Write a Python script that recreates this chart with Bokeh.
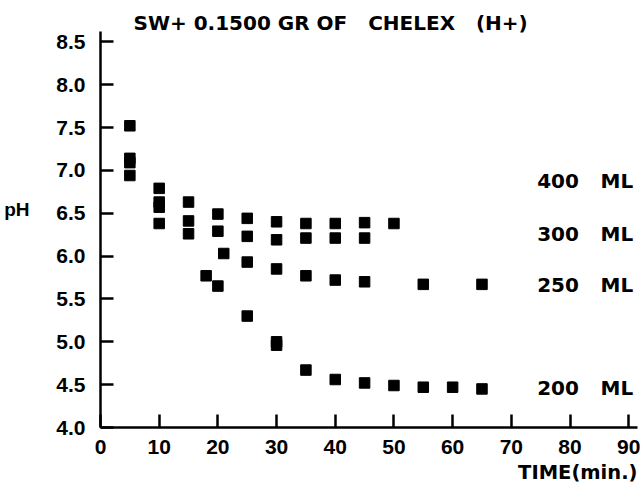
from bokeh.plotting import figure
from bokeh.models import FixedTicker, Title, LinearAxis
from bokeh.core.properties import value
from bokeh.embed import file_html
from bokeh.resources import INLINE

# ---- data ----
t_400 = [5, 10, 15, 20, 25, 30, 35, 40, 45, 50]
ph_400 = [7.52, 6.79, 6.63, 6.49, 6.44, 6.40, 6.38, 6.38, 6.39, 6.38]

t_300 = [5, 10, 15, 20, 25, 30, 35, 40, 45]
ph_300 = [7.14, 6.63, 6.41, 6.29, 6.23, 6.19, 6.21, 6.21, 6.21]

t_250 = [5, 10, 15, 21, 25, 30, 35, 40, 45, 55, 65]
ph_250 = [7.09, 6.57, 6.26, 6.03, 5.93, 5.85, 5.77, 5.72, 5.70, 5.67, 5.67]

t_200 = [5, 10, 18, 20, 25, 30, 30, 35, 40, 45, 50, 55, 60, 65]
ph_200 = [6.94, 6.38, 5.77, 5.65, 5.30, 5.00, 4.96, 4.67, 4.56, 4.52, 4.49, 4.47, 4.47, 4.45]

series_names = ["400", "300", "250", "200"]
series_label_y = [6.88, 6.26, 5.66, 4.46]

x_ticks = [0, 10, 20, 30, 40, 50, 60, 70, 80, 90]
y_ticks = [4.0, 4.5, 5.0, 5.5, 6.0, 6.5, 7.0, 7.5, 8.0, 8.5]
y_tick_labels = ["4.0", "4.5", "5.0", "5.5", "6.0", "6.5", "7.0", "7.5", "8.0", "8.5"]

NB = "\u00a0"
title_text = "SW+ 0.1500 GR OF" + NB * 3 + "CHELEX" + NB * 3 + "(H+)"
y_label_text = "pH"
y_label_level = 6.54
x_label_text = "TIME(min.)"
unit_text = "ML"

FONT = "Liberation Sans"
FONT2 = "DejaVu Sans"
INK = "#000000"

p = figure(width=643, height=486, x_range=(0, 91.5), y_range=(4.0, 8.62),
           output_backend="svg", toolbar_location=None,
           min_border_left=100, min_border_right=6, min_border_top=31,
           min_border_bottom=58)
p.outline_line_color = None
p.grid.visible = False
p.background_fill_color = "white"
p.border_fill_color = "white"

for ax in (p.xaxis, p.yaxis):
    ax.axis_line_width = 2.5
    ax.axis_line_color = INK
    ax.major_tick_line_width = 2.5
    ax.major_tick_line_color = INK
    ax.major_tick_in = 13
    ax.major_tick_out = 0
    ax.minor_tick_line_color = None
    ax.major_label_text_font = FONT
    ax.major_label_text_font_style = "bold"
    ax.major_label_text_font_size = "21px"
    ax.major_label_text_color = INK

p.xaxis.ticker = FixedTicker(ticks=x_ticks)
p.yaxis.ticker = FixedTicker(ticks=y_ticks)
p.yaxis.major_label_overrides = {t: l for t, l in zip(y_ticks, y_tick_labels)}
p.xaxis.major_label_standoff = 12
p.yaxis.major_label_standoff = 15

# "pH" label: a bare outer axis carrying one labelled tick at the label's level
ph_axis = LinearAxis(ticker=FixedTicker(ticks=[y_label_level]),
                     major_label_overrides={y_label_level: y_label_text},
                     axis_line_color=None, major_tick_line_color=None,
                     minor_tick_line_color=None, major_label_standoff=18,
                     major_label_text_font=FONT, major_label_text_font_style="bold",
                     major_label_text_font_size="19px", major_label_text_color=INK)
p.add_layout(ph_axis, "left")

for xs, ys in ((t_400, ph_400), (t_300, ph_300), (t_250, ph_250), (t_200, ph_200)):
    p.scatter(xs, ys, marker="square", size=10.5, fill_color=INK, line_color=INK)

p.text(x=[74.4] * len(series_names), y=series_label_y, text=series_names,
       text_font=value(FONT2), text_font_style="bold", text_font_size="20px",
       text_baseline="middle", text_align="left", text_color=INK)
p.text(x=[85.2] * len(series_names), y=series_label_y, text=[unit_text] * len(series_names),
       text_font=value(FONT2), text_font_style="bold", text_font_size="20px",
       text_baseline="middle", text_align="left", text_color=INK)

p.title.text = title_text
p.title.align = "left"
p.title.offset = 33
p.title.standoff = -6
p.title.text_font = FONT2
p.title.text_font_style = "bold"
p.title.text_font_size = "20px"
p.title.text_color = INK

p.add_layout(Title(text=x_label_text, align="right", standoff=5,
                   text_font=FONT2, text_font_style="bold", text_font_size="19.5px",
                   text_color=INK), "below")

open("out.html", "w").write(file_html(p, INLINE))
